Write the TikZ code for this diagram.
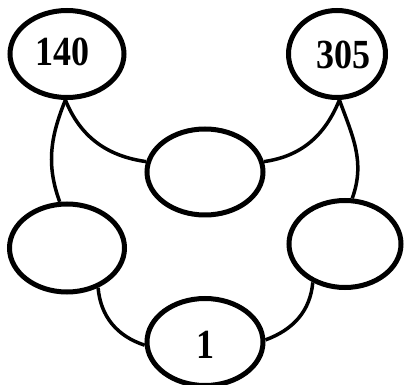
\documentclass[tikz,border=0pt]{standalone}
\usepackage{fontspec}
\setmainfont{Liberation Serif}
\usetikzlibrary{shapes.geometric}
\begin{document}
\begin{tikzpicture}[x=1pt,y=-1pt,
    oval/.style={ellipse, draw, line width=5pt, inner sep=0pt},
    num/.style={font=\fontsize{36}{40}\selectfont\bfseries},
    link/.style={line width=3.5pt}]
    \useasboundingbox (0,0) rectangle (405,385);
    \node[oval, minimum width=114, minimum height=87] (tl) at (67,54) {};
    \node[num] (tltext) at (62.5,52) {\scalebox{1}[1.15]{140}};
    \node[oval, minimum width=97, minimum height=87] (tr) at (337,54) {};
    \node[num] (trtext) at (343.5,54.5) {\scalebox{1}[1.15]{305}};
    \node[oval, minimum width=116, minimum height=86] (mid) at (205,172) {};
    \node[oval, minimum width=115, minimum height=88] (bl) at (67,248) {};
    \node[oval, minimum width=112, minimum height=87] (br) at (345,244) {};
    \node[oval, minimum width=116, minimum height=87] (bot) at (205,342) {};
    \node[num] (bottext) at (205,345) {\scalebox{1}[1.15]{1}};
    \draw[link] (tl.-92) to[out=-68, in=172] (mid.170);
    \draw[link] (tl.-92) to[out=-112, in=110] (bl.99);
    \draw[link] (tr.-87) to[out=-112, in=8] (mid.10);
    \draw[link] (tr.-87) to[out=-70, in=70] (br.81);
    \draw[link] (bl.-52) to[out=-85, in=162] (bot.183);
    \draw[link] (br.-130) to[out=-95, in=20] (bot.2);
\end{tikzpicture}
\end{document}
